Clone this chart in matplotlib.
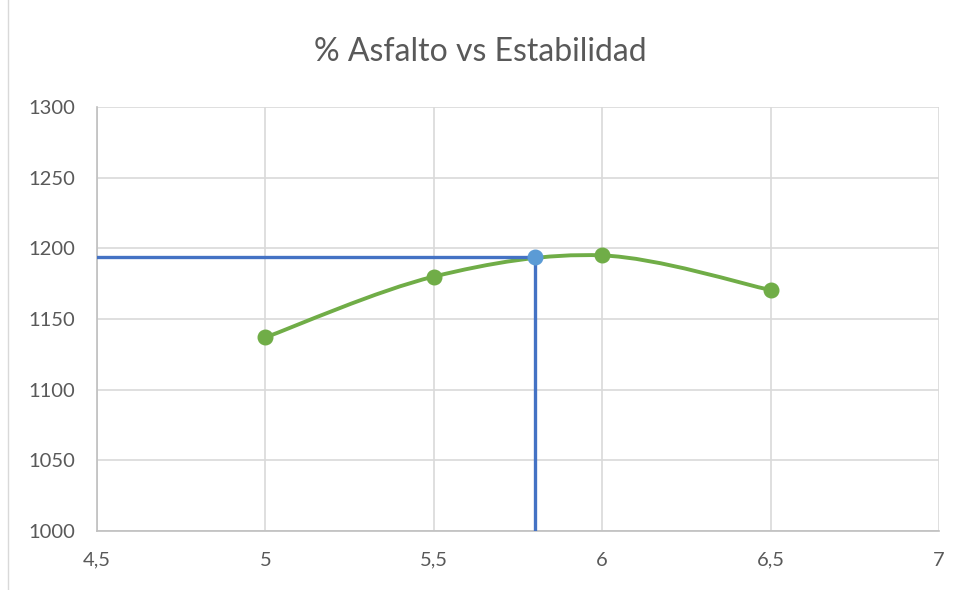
import matplotlib
matplotlib.use("Agg")
import matplotlib.pyplot as plt
import numpy as np
from matplotlib.path import Path
from matplotlib.patches import PathPatch
from matplotlib.lines import Line2D

# data
asfalto = np.array([5.0, 5.5, 6.0, 6.5])
estabilidad = np.array([1137, 1180, 1195, 1170.5])
opt_x = 5.8
opt_y = 1194

x_ticks = [4.5, 5, 5.5, 6, 6.5, 7]
x_labels = ["4,5", "5", "5,5", "6", "6,5", "7"]
y_ticks = [1000, 1050, 1100, 1150, 1200, 1250, 1300]

green = "#70AD47"
text_col = "#595959"
grid_col = "#D9D9D9"

plt.rcParams['font.family'] = ['Lato', 'DejaVu Sans']

fig = plt.figure(figsize=(9.61, 5.90), dpi=100)
ax = fig.add_axes([97/961, 59/590, 842/961, 424/590])

# smoothed line (Excel-style cubic bezier through the points)
pts = np.column_stack([asfalto, estabilidad])
verts = [tuple(pts[0])]
codes = [Path.MOVETO]
n = len(pts)
for i in range(n - 1):
    p0 = pts[i - 1] if i > 0 else pts[i]
    p1 = pts[i]
    p2 = pts[i + 1]
    p3 = pts[i + 2] if i + 2 < n else pts[i + 1]
    c1 = p1 + (p2 - p0) / 6
    c2 = p2 - (p3 - p1) / 6
    verts += [tuple(c1), tuple(c2), tuple(p2)]
    codes += [Path.CURVE4] * 3
ax.add_patch(PathPatch(Path(verts, codes), facecolor="none",
                       edgecolor=green, linewidth=2.8, zorder=3,
                       capstyle="round"))
ax.plot(asfalto, estabilidad, linestyle="none", marker="o",
        markersize=10.5, color=green, zorder=4)

# optimum lines
ax.plot([4.5, opt_x], [opt_y, opt_y], color="#4472C4", linewidth=2.4, zorder=5)
ax.plot([opt_x, opt_x], [1000, opt_y], color="#4472C4", linewidth=2.4, zorder=5)
ax.plot([opt_x], [opt_y], marker="o", markersize=10.5, color="#5B9BD5",
        linestyle="none", zorder=6)

ax.set_xlim(4.5, 7)
ax.set_ylim(1000, 1300)
ax.set_xticks(x_ticks)
ax.set_xticklabels(x_labels)
ax.set_yticks(y_ticks)
ax.grid(color=grid_col, linewidth=1.2)
ax.set_axisbelow(True)
for s in ["top", "right"]:
    ax.spines[s].set_visible(False)
for s in ["left", "bottom"]:
    ax.spines[s].set_color("#BFBFBF")
    ax.spines[s].set_linewidth(1.2)
ax.tick_params(length=0, labelsize=14.5, labelcolor=text_col)
ax.tick_params(axis="x", pad=15)
ax.tick_params(axis="y", pad=16)

fig.text(0.5, 1 - 52/590, "% Asfalto vs Estabilidad", ha="center", va="center",
         fontsize=23, color=text_col)

# chart area border on the left
fig.add_artist(Line2D([8/961, 8/961], [0, 1], transform=fig.transFigure,
                      color="#D9D9D9", linewidth=1))

fig.savefig("out.png", dpi=100)
